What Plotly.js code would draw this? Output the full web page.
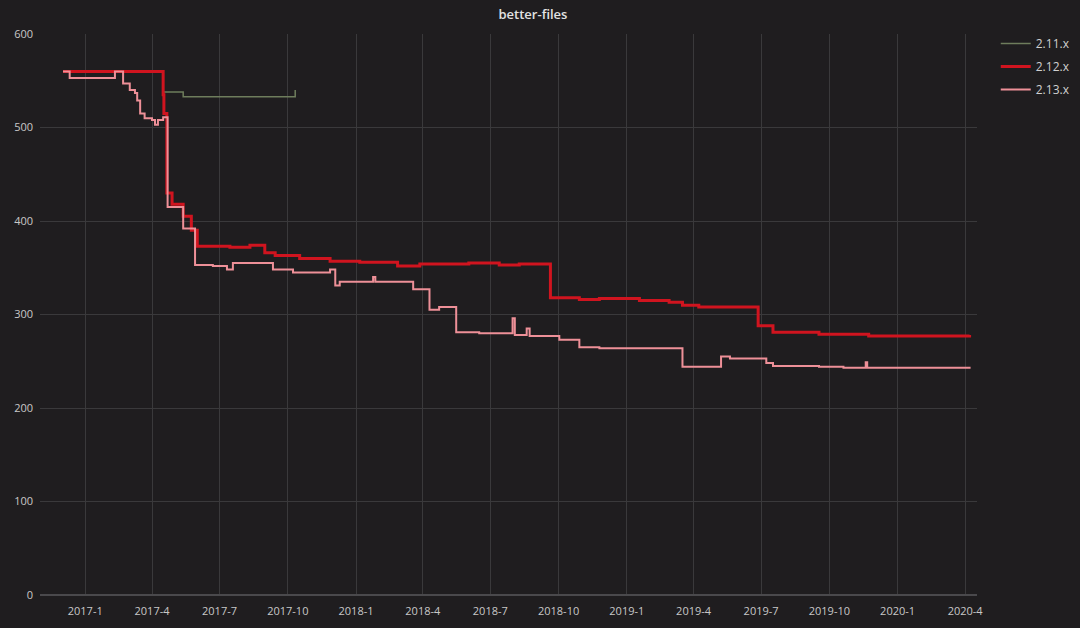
<!DOCTYPE html>
<html>
<head>
<meta charset="utf-8">
<script src="https://cdn.plot.ly/plotly-3.0.1.min.js"></script>
<style>html,body{margin:0;padding:0;background:#1f1d1f;}#chart{width:1080px;height:628px;}</style>
</head>
<body>
<div id="chart"></div>
<script>
// Series 2.11.x
const datesV211 = ["2017-04-16","2017-05-13","2017-10-07","2017-10-11"];
const valuesV211 = [538,533,533,540];

// Series 2.12.x
const datesV212 = ["2016-12-02","2017-04-13","2017-04-16","2017-04-17","2017-04-21","2017-04-28","2017-05-13","2017-05-24","2017-06-01","2017-07-15","2017-08-11","2017-08-31","2017-09-14","2017-10-17","2017-11-27","2018-01-06","2018-02-26","2018-03-28","2018-06-02","2018-07-13","2018-08-09","2018-09-20","2018-10-29","2018-11-25","2019-01-18","2019-02-27","2019-03-17","2019-04-08","2019-06-27","2019-07-17","2019-09-17","2019-11-23","2020-01-30","2020-04-07"];
const valuesV212 = [560,560,535,515,430,418,405,390,373,372,374,366,363,360,357,356,352,354,355,353,354,318,316,317,315,313,310,308,288,281,279,277,277,278];

// Series 2.13.x
const datesV213 = ["2016-12-02","2016-12-11","2017-02-10","2017-02-21","2017-03-02","2017-03-09","2017-03-12","2017-03-16","2017-03-22","2017-04-01","2017-04-05","2017-04-09","2017-04-16","2017-04-22","2017-05-13","2017-05-29","2017-06-22","2017-07-11","2017-07-19","2017-09-11","2017-10-08","2017-11-27","2017-12-04","2017-12-10","2018-01-24","2018-01-27","2018-03-19","2018-04-10","2018-04-23","2018-05-16","2018-06-16","2018-07-31","2018-08-03","2018-08-19","2018-08-23","2018-10-02","2018-10-29","2018-11-25","2019-03-17","2019-05-08","2019-05-20","2019-07-08","2019-07-17","2019-09-17","2019-10-20","2019-11-19","2019-11-21","2020-04-07"];
const valuesV213 = [560,553,560,547,540,537,529,515,510,508,503,508,511,415,392,353,352,348,355,348,345,348,331,335,340,335,327,305,308,281,280,296,278,285,277,273,265,264,244,255,253,248,245,244,243,249,243,242];

// Axis ticks
const tickDates = ["2017-01-01","2017-04-01","2017-07-01","2017-10-01","2018-01-01","2018-04-01","2018-07-01","2018-10-01","2019-01-01","2019-04-01","2019-07-01","2019-10-01","2020-01-01","2020-04-01"];
const tickLabels = ["2017-1","2017-4","2017-7","2017-10","2018-1","2018-4","2018-7","2018-10","2019-1","2019-4","2019-7","2019-10","2020-1","2020-4"];

const traces = [
  {x: datesV211, y: valuesV211, name: "2.11.x", type: "scatter", mode: "lines", legendgroup: "a",
   line: {color: "#6e7d5c", width: 1.5, shape: "hv"}},
  {x: datesV212, y: valuesV212, name: "2.12.x", type: "scatter", mode: "lines", legendgroup: "b",
   line: {color: "#d0141f", width: 3, shape: "hv"}},
  {x: datesV213, y: valuesV213, name: "2.13.x", type: "scatter", mode: "lines", legendgroup: "c",
   line: {color: "#ee9098", width: 2, shape: "hv"}}
];

const layout = {
  width: 1080, height: 628,
  paper_bgcolor: "#1f1d1f", plot_bgcolor: "#1f1d1f",
  font: {family: "Open Sans, Noto Sans, sans-serif", color: "#c8c8c8", size: 11},
  margin: {l: 40, r: 103, t: 34, b: 33},
  title: {text: "better-files", xref: "container", x: 0.4935, y: 0.977, yanchor: "middle",
          font: {family: "Open Sans, sans-serif", size: 13, color: "#e2e2e2", weight: 600}},
  showlegend: true,
  legend: {xref: "container", yref: "container", x: 0.922, xanchor: "left", y: 0.954, yanchor: "top",
           font: {size: 12, color: "#d0d0d0"}, bgcolor: "rgba(0,0,0,0)", tracegroupgap: 4},
  xaxis: {type: "date", range: ["2016-11-01", "2020-04-17"], tickvals: tickDates, ticktext: tickLabels,
          showgrid: true, gridcolor: "#3a393b", gridwidth: 1, zeroline: false, showline: false,
          ticks: "", ticklabelstandoff: 8, tickfont: {size: 11, color: "#c8c8c8"}},
  yaxis: {range: [0, 600], tickvals: [0,100,200,300,400,500,600], showgrid: true, gridcolor: "#3a393b",
          gridwidth: 1, zeroline: true, zerolinecolor: "#4a494c", zerolinewidth: 1.5, showline: false,
          ticks: "", ticklabelstandoff: 6, tickfont: {size: 11, color: "#c8c8c8"}}
};

Plotly.newPlot("chart", traces, layout, {displayModeBar: false, staticPlot: true});
</script>
</body>
</html>
